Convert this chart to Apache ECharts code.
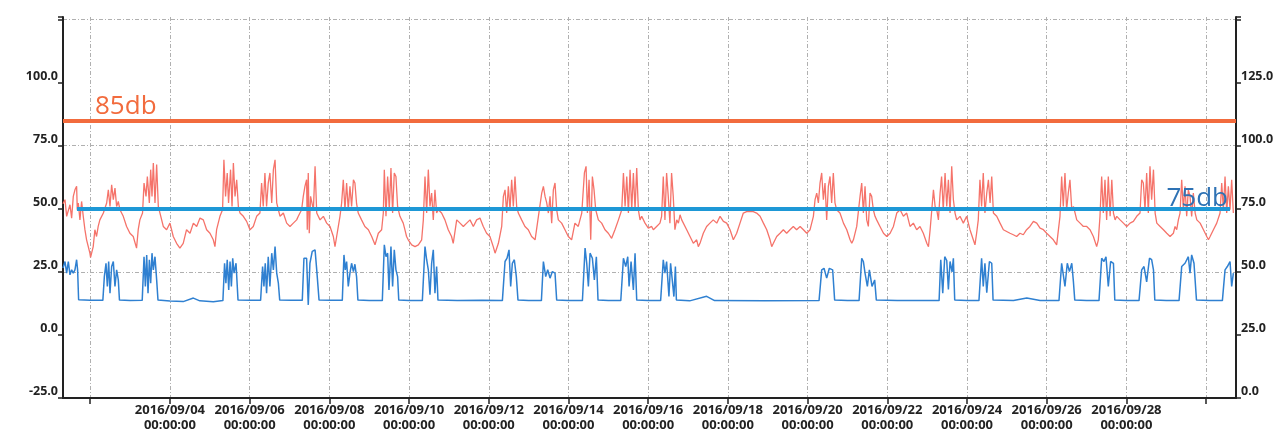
<!DOCTYPE html>
<html><head><meta charset="utf-8">
<script src="https://cdn.jsdelivr.net/npm/echarts@6/dist/echarts.min.js"></script>
<style>html,body{margin:0;padding:0;background:#fff;}#chart{width:1286px;height:433px;}</style>
</head><body><div id="chart"></div>
<script>
// ---------- data ----------
// x values: hours since 2016/09/01 00:00
const tickDates = ['2016/09/02','2016/09/04','2016/09/06','2016/09/08','2016/09/10','2016/09/12','2016/09/14','2016/09/16','2016/09/18','2016/09/20','2016/09/22','2016/09/24','2016/09/26','2016/09/28','2016/09/30'];
const labelDates = ['2016/09/04','2016/09/06','2016/09/08','2016/09/10','2016/09/12','2016/09/14','2016/09/16','2016/09/18','2016/09/20','2016/09/22','2016/09/24','2016/09/26','2016/09/28'];
const xRange = [7.6, 714.0];
const leftLimit = {value: 85, name: '85db'};
const rightLimit = {value: 75, name: '75db', from: 16.0, to: 710.4};

// red series (left axis)
const redSeries = [[7.6,52],[8.8,53.6],[9.8,47],[11.8,51.6],[12.8,46.3],[13.8,54.9],[14.8,57.5],[15.8,58.9],[16.2,49.6],[16.8,52.3],[17.8,45.6],[18.8,52.9],[19.8,47],[20.8,41.7],[21.8,37.7],[23.8,32.4],[24.2,30.7],[25.8,35],[26.8,41.7],[27.8,39],[28.8,43],[29.8,45.6],[31.9,48.3],[33.9,52.3],[34.9,57.5],[35.9,50.9],[36.9,59.5],[37.9,53.6],[38.9,58.2],[39.9,50.9],[40.9,52.9],[41.9,49.6],[43.9,47],[45.9,43],[47.9,40.3],[49.9,39],[51.9,34.4],[52.9,41.7],[53.9,45.6],[55.5,48.3],[56.4,60.2],[57.6,54.9],[58.4,62.8],[59.6,52.3],[60.4,65.5],[61.2,54.9],[62.0,68.1],[63.0,52.3],[64.0,67.5],[65.0,50.9],[66.0,48.3],[68.0,43],[70.0,41.7],[72.0,44.3],[74.0,39],[76.0,36.3],[78.0,34.4],[80.0,36.3],[82.0,41.7],[84.1,40.3],[86.1,44.3],[88.1,43],[90.1,46.3],[92.1,45.6],[94.1,41.7],[96.1,40.3],[98.1,37.7],[99.1,35],[100.1,41.7],[102.1,47],[103.7,49.6],[104.5,69.4],[105.5,54.9],[106.5,64.2],[107.3,52.3],[108.5,65.5],[109.4,50.9],[110.2,68.1],[111.2,54.9],[112.2,61.5],[113.2,50.9],[114.2,48.3],[116.2,47],[118.2,45],[120.2,41.7],[122.2,43],[124.2,47],[126.2,48.3],[127.2,60.2],[128.2,50.9],[129.2,64.2],[130.2,50.9],[131.2,60.2],[132.2,64.2],[133.3,52.3],[134.3,65.5],[135.3,69.4],[136.3,52.3],[137.3,49.6],[138.3,47],[140.3,48.3],[142.3,44.3],[144.3,43],[146.3,44.3],[148.3,45.6],[149.3,47],[151.3,49.6],[152.3,54.9],[153.3,58.9],[154.3,61.5],[154.7,41.7],[155.3,64.2],[155.9,40.3],[156.7,54.9],[158.4,49.6],[159.4,66.8],[160.4,48.3],[162.4,45.6],[164.4,47],[166.4,44.3],[168.4,43],[170.4,39],[171.4,35],[172.4,39],[174.4,47],[175.4,52.3],[176.4,61.5],[177.4,49.6],[178.4,60.2],[179.4,49.6],[180.4,58.9],[181.4,50.9],[182.5,61.5],[183.4,60.2],[184.4,52],[185.4,48.3],[187.4,45.6],[189.4,43],[191.5,41.7],[193.5,39],[195.5,35.7],[197.5,40.3],[199.5,41.7],[200.5,48.3],[201.1,65.5],[202.1,47],[203.1,62.8],[204.1,49.6],[205.1,66.1],[206.1,48.3],[207.1,64.2],[208.1,62.8],[209.1,50.9],[210.5,47],[212.5,44.3],[213.5,41.7],[214.5,39],[215.5,37.7],[217.6,35.7],[219.6,35],[221.6,35.7],[223.6,37.7],[224.6,45.6],[225.6,62.8],[226.6,48.3],[227.6,65.5],[228.6,50.9],[229.6,56.2],[230.6,45.6],[231.6,57.5],[232.6,48.3],[233.6,49.6],[235.6,48.3],[237.6,45.6],[239.6,41.7],[241.6,39],[242.6,36.3],[244.7,45.6],[246.7,44.3],[248.7,43],[250.7,44.3],[252.7,45.6],[254.7,43],[256.7,45.6],[258.7,46.3],[260.7,43],[262.7,40.3],[264.7,39],[266.7,35],[267.8,32.4],[269.8,36.3],[271.8,43],[272.8,54.9],[273.8,57.5],[274.8,48.3],[275.8,58.9],[276.8,49.6],[277.8,61.5],[278.8,50.9],[279.8,62.8],[280.8,50.9],[281.8,48.3],[283.8,45.6],[285.8,43],[287.8,41.7],[289.8,39],[291.9,37.7],[293.9,47],[295.9,56.2],[296.9,58.9],[297.9,54.9],[298.9,52.3],[299.9,48.3],[300.9,54.9],[301.9,44.3],[302.9,57.5],[303.9,60.2],[304.9,49.6],[305.9,45.6],[307.9,44.3],[309.9,41.7],[311.9,39],[313.9,37.7],[315.9,44.3],[317.9,43],[320.0,48.3],[321.6,64.2],[322.6,66.8],[323.4,48.3],[324.4,61.5],[325.4,37.7],[326.4,62.8],[327.4,57.5],[328.4,49.6],[330.0,45.6],[332.0,44.3],[334.0,41.7],[336.0,40.3],[338.0,38.3],[340.0,41.7],[342.1,45.6],[344.1,49.6],[345.1,64.2],[346.1,50.9],[347.1,62.8],[348.1,48.3],[349.1,65.5],[350.1,49.6],[351.1,64.2],[352.1,49.6],[353.1,66.1],[354.1,49.6],[355.1,45.6],[356.1,47],[358.1,44.3],[360.1,42.3],[362.1,43],[363.1,41.7],[365.1,43],[367.1,44.3],[368.1,47],[369.1,62.8],[370.1,45.6],[371.1,64.2],[372.1,54.9],[373.1,44.3],[374.1,64.2],[375.1,54.9],[376.1,41.7],[377.2,45.6],[378.2,44.3],[379.2,47.6],[380.2,45.6],[381.2,45.6],[383.2,41.7],[385.2,39],[387.2,36.3],[389.2,37.7],[390.2,35],[391.2,36.3],[393.2,40.3],[395.2,43],[397.2,44.3],[399.2,45.6],[401.3,44.3],[403.3,47],[405.3,45],[407.3,44.3],[409.3,41.7],[411.3,37.7],[413.3,40.3],[415.3,44.3],[417.3,48.3],[419.3,48.9],[421.3,48.9],[423.3,48.9],[425.3,48.3],[427.4,47],[429.4,44.3],[431.4,41.7],[433.4,37.7],[434.4,35],[435.4,36.3],[437.4,39],[439.4,40.3],[441.4,41.7],[443.4,40.3],[445.4,41.7],[447.4,43],[449.4,41.7],[451.5,43],[453.5,41.7],[455.5,40.3],[457.5,41.7],[459.5,47],[460.5,53.6],[461.5,56.2],[462.5,52.3],[463.5,60.2],[464.5,64.2],[465.5,53.6],[466.5,60.2],[467.5,45.6],[468.5,58.9],[469.5,62.8],[470.5,52.3],[471.5,64.2],[472.5,52.3],[473.5,49.6],[475.5,48.3],[477.6,44.3],[479.6,41.7],[481.6,37.7],[482.6,36.3],[483.6,37.7],[485.6,43],[487.6,54.9],[488.6,60.2],[489.6,48.3],[490.6,58.9],[491.6,45.6],[492.6,43],[493.6,56.2],[494.6,54.9],[495.6,49.6],[496.6,47],[497.6,45.6],[499.6,43],[501.7,40.3],[503.7,39],[505.7,40.3],[507.7,43],[509.7,48.3],[511.7,49.6],[513.7,47],[515.7,48.3],[517.7,43],[519.7,44.3],[521.7,41.7],[523.7,43],[525.7,40.3],[527.8,36.3],[528.8,35],[529.8,41.7],[530.8,49.6],[531.8,57.5],[532.8,50.9],[533.8,49.6],[534.8,45.6],[535.8,56.2],[536.7,62.8],[537.7,49.6],[538.8,64.2],[539.8,50.9],[540.8,61.5],[541.8,48.3],[542.8,66.8],[543.8,53.6],[544.8,48.3],[545.8,45.6],[547.8,47],[549.8,44.3],[551.8,47],[553.8,41.7],[555.8,37.7],[556.8,35.7],[557.8,40.3],[558.8,45.6],[559.8,61.5],[560.8,50.9],[561.8,64.2],[562.8,48.3],[563.9,56.2],[564.9,61.5],[565.9,52.3],[566.9,62.8],[567.9,48.3],[569.9,47],[571.9,44.3],[573.9,41.7],[575.9,41],[577.9,40.3],[579.9,39.7],[581.9,39],[583.9,40.3],[585.9,39.7],[587.9,41.7],[589.9,43],[592.0,45],[594.0,44.3],[596.0,42.3],[598.0,41.7],[600.0,40.3],[602.0,39],[604.0,37.7],[606.0,35.7],[607.0,35],[608.0,47],[609.0,62.8],[610.0,50.9],[611.0,64.2],[612.0,49.6],[613.0,56.2],[614.0,61.5],[615.1,49.6],[616.1,50.9],[617.1,48.3],[618.1,45.6],[620.1,44.3],[622.1,43],[624.1,43],[626.1,41.7],[628.1,39],[630.1,35],[631.1,37.7],[632.1,47],[633.1,62.8],[634.1,48.3],[635.1,61.5],[636.1,45.6],[637.1,62.8],[638.2,47],[639.2,61.5],[640.2,48.3],[641.2,45.6],[642.2,47],[644.2,45.6],[646.2,44.3],[648.2,43],[650.2,44.3],[652.2,45],[654.2,47],[656.2,48.3],[657.2,61.5],[658.2,60.2],[659.2,49.6],[660.2,64.2],[661.2,48.3],[662.2,66.8],[663.2,53.6],[664.3,65.5],[665.3,48.3],[666.3,44.3],[668.3,43],[670.3,41.7],[672.3,40.3],[674.3,39],[676.3,40.3],[677.3,43],[678.3,41.7],[679.3,45.6],[680.3,48.3],[681.3,61.5],[682.3,49.6],[683.3,58.9],[684.3,47],[685.3,57.5],[686.3,54.9],[687.3,47],[688.3,56.2],[689.4,48.3],[690.4,45.6],[692.4,44.3],[694.4,41.7],[696.4,39],[697.4,37.7],[698.4,39],[700.4,41.7],[702.4,44.3],[704.4,48.3],[705.4,60.2],[706.4,49.6],[707.4,62.8],[708.4,48.3],[709.4,58.9],[710.4,49.6],[711.4,61.5],[712.4,48.3]];

// blue series (right axis)
const blueSeries = [[7.6,51.5],[8.8,54.1],[9.8,49.5],[10.8,54.1],[11.8,48.8],[12.8,50.8],[13.8,49.5],[14.8,50.8],[15.8,54.8],[16.4,50.8],[17.0,38.9],[24,38.7],[31.6,38.7],
[32.5,48.1],[33.5,53.4],[34.3,44.2],[35.1,54.1],[35.9,41.5],[36.9,52.1],[37.9,54.1],[38.9,44.2],[39.9,50.8],[40.9,46.8],[41.6,38.8],[48,38.6],[55.3,38.7],
[56.4,56],[57.2,44.2],[58.0,56.7],[58.8,41.5],[59.6,54.8],[60.4,45.5],[61.2,57.4],[62.0,50.8],[63.0,56],[64.0,46.8],[64.8,38.8],[72,38.4],[80,38.2],[86.1,39.6],[90,38.5],[98.1,38.1],[103.9,38.6],
[104.9,53.4],[105.7,45.5],[106.5,54.8],[107.4,42.8],[108.2,54.1],[109.0,44.2],[109.8,55.4],[110.6,49.5],[111.8,53.4],[113.0,38.8],[120,38.7],[126.6,38.7],
[127.8,52.1],[128.6,44.2],[129.4,53.4],[130.2,41.5],[131.2,56],[132.2,44.2],[133.3,57.4],[134.3,50.8],[135.3,60],[136.3,49.5],[137.3,45.5],[138.1,38.8],[145,38.7],[151.7,38.7],
[152.7,55.4],[154.3,55.4],[155.3,36.9],[156.3,53.4],[157.7,58.1],[159.4,58.7],[160.4,50.8],[161.8,38.8],[168,38.7],[175.8,38.7],
[176.8,56.7],[177.6,50.8],[178.4,54.1],[179.4,44.2],[180.4,49.5],[181.4,53.4],[182.5,50.1],[183.4,53],[184.4,48],[185.2,38.8],[192,38.6],[199.9,38.6],
[201.1,60.7],[202.1,56],[203.1,57.4],[203.9,42.8],[205.1,60],[206.1,44.2],[207.1,58.7],[208.1,50.8],[209.1,48.1],[209.8,38.8],[216,38.6],[224.0,38.6],
[225.6,60],[226.6,54.8],[227.6,50.8],[228.6,40.9],[229.6,53.4],[230.6,58.7],[231.6,41.5],[232.6,52.1],[233.4,38.8],[245,38.6],[260,38.7],[272.2,38.6],
[273.8,54.1],[275.0,55.4],[276.2,58.7],[277.2,44.2],[278.2,53.4],[279.4,54.8],[280.6,48.1],[281.6,38.8],[288,38.6],[295.7,38.6],
[296.9,54.1],[298.3,48.1],[299.5,50.8],[300.9,47.5],[302.3,50.1],[303.9,49.5],[304.9,38.8],[312,38.6],[320.4,38.6],
[322.0,59.4],[323.0,53.4],[324.0,44.2],[325.0,57.4],[326.4,55.4],[327.6,46.8],[328.8,56],[329.8,38.8],[336,38.6],[343.5,38.6],
[345.1,55.4],[346.5,52.1],[347.7,56],[348.5,44.2],[349.7,54.1],[351.1,42.8],[352.1,57.4],[353.1,38.8],[360,38.6],[367.5,38.6],
[369.1,54.8],[370.1,49.5],[371.1,54.1],[372.5,40.2],[373.5,53.4],[374.7,54.1],[375.5,40.2],[376.4,52.1],[377.0,38.8],[385,38.5],[395.2,40.3],[400,38.6],[430,38.5],[462.9,38.6],
[464.5,50.8],[465.9,51.4],[467.5,47.5],[469.1,51.4],[471.1,50.8],[472.3,38.8],[480,38.6],[487.0,38.6],
[488.6,55.4],[489.6,54.1],[490.6,49.5],[492.0,44.2],[493.2,50.8],[494.8,44.2],[496.4,46.8],[497.4,38.8],[510,38.6],[535.2,38.6],
[536.2,54.8],[537.4,41.5],[538.6,56],[539.8,54.5],[540.8,43],[541.8,54.1],[543.0,50],[543.8,55.4],[544.6,38.8],[552,38.6],[559.2,38.6],
[560.8,55.4],[561.8,44.2],[562.8,53.4],[563.9,41.7],[565.5,54.1],[566.9,53.4],[567.7,38.8],[580,38.6],[588.0,39.6],[596,38.6],[607.4,38.6],
[609.0,53.4],[610.0,54.1],[611.0,44.2],[612.4,53.4],[613.7,50.1],[615.1,53.4],[616.1,46],[616.9,38.8],[624,38.6],[631.5,38.6],
[633.1,55.4],[634.5,54.1],[635.7,56],[637.1,44.2],[638.5,54.1],[640.2,53.4],[641.0,38.8],[648,38.6],[655.6,38.6],
[657.2,50.8],[658.6,52.1],[660.2,46],[661.9,55.4],[663.2,54.8],[664.3,50.8],[665.1,38.8],[672,38.6],[679.7,38.6],
[681.3,52.1],[683.3,53.4],[685.3,56],[686.3,49.5],[687.3,56.7],[688.7,53.4],[690.2,38.8],[698,38.6],[705.8,38.6],
[707.4,50.8],[708.8,52.1],[710.4,54.1],[711.4,44.2],[712.4,49.5]];

// ---------- helpers ----------
const T0 = Date.UTC(2016, 8, 1);
function dateToHour(s) { const p = s.split('/').map(Number); return (Date.UTC(p[0], p[1] - 1, p[2]) - T0) / 3600000; }
function pad(n) { return (n < 10 ? '0' : '') + n; }
function hourToLabel(h) {
  const d = new Date(T0 + h * 3600000);
  return d.getUTCFullYear() + '/' + pad(d.getUTCMonth() + 1) + '/' + pad(d.getUTCDate()) + '\n' +
    pad(d.getUTCHours()) + ':' + pad(d.getUTCMinutes()) + ':' + pad(d.getUTCSeconds());
}
const tickHours = tickDates.map(dateToHour);
const labelHours = labelDates.map(dateToHour);

const FONT = 'Open Sans';
const axisColor = '#222';
const labelStyle = {color: '#222', fontFamily: FONT, fontWeight: 700, fontSize: 12.5};
const gridDash = {color: '#b0b0b0', width: 1, type: [4, 2, 1, 2]};

const chart = echarts.init(document.getElementById('chart'), null, {renderer: 'canvas'});
chart.setOption({
  animation: false,
  backgroundColor: '#fff',
  grid: {left: 63, right: 50, top: 17, bottom: 35, containLabel: false},
  xAxis: {
    type: 'value', min: xRange[0], max: xRange[1],
    axisLine: {show: true, onZero: false, lineStyle: {color: axisColor, width: 2}},
    axisTick: {show: true, customValues: tickHours, length: 6, lineStyle: {color: axisColor, width: 1.5}},
    axisLabel: {customValues: labelHours, formatter: hourToLabel, margin: 5, lineHeight: 15, fontSize: 13, color: '#222', fontFamily: FONT, fontWeight: 700},
    splitLine: {show: true, lineStyle: gridDash}
  },
  yAxis: [
    {
      type: 'value', position: 'left', min: -25, max: 126, interval: 25,
      axisLine: {show: true, onZero: false, lineStyle: {color: axisColor, width: 2}},
      axisTick: {show: true, length: 5, lineStyle: {color: axisColor, width: 1.5}},
      axisLabel: Object.assign({formatter: v => v > 100 ? '' : v.toFixed(1), margin: 5, verticalAlign: 'bottom'}, labelStyle),
      splitLine: {show: false}
    },
    {
      type: 'value', position: 'right', min: 0, max: 151, interval: 25,
      axisLine: {show: true, onZero: false, lineStyle: {color: axisColor, width: 2}},
      axisTick: {show: true, length: 5, lineStyle: {color: axisColor, width: 1.5}},
      axisLabel: Object.assign({formatter: v => v > 125 ? '' : v.toFixed(1), margin: 5, verticalAlign: 'bottom'}, labelStyle),
      splitLine: {show: false}
    },
    {
      type: 'value', position: 'left', min: -25, max: 126, interval: 50,
      axisLine: {show: false}, axisTick: {show: false}, axisLabel: {show: false},
      splitLine: {show: true, showMaxLine: false, showMinLine: false, lineStyle: gridDash}
    }
  ],
  series: [
    {
      type: 'line', name: 'red', yAxisIndex: 0, data: redSeries, showSymbol: false, symbol: 'none',
      lineStyle: {color: '#f5736a', width: 1.3}, z: 2,
      markLine: {
        silent: true, symbol: 'none', animation: false,
        lineStyle: {color: '#f26b3d', width: 4, type: 'solid'},
        label: {show: true, formatter: leftLimit.name, position: 'insideStartTop', distance: [32, 1], color: '#f26b3d', fontFamily: FONT, fontSize: 26},
        data: [{yAxis: leftLimit.value}]
      }
    },
    {
      type: 'line', name: 'blue', yAxisIndex: 1, data: blueSeries, showSymbol: false, symbol: 'none',
      lineStyle: {color: '#2f80d1', width: 1.5}, z: 3,
      markLine: {
        silent: true, symbol: 'none', animation: false,
        lineStyle: {color: '#1e98d6', width: 4, type: 'solid'},
        label: {show: true, formatter: rightLimit.name, position: 'insideEndTop', distance: [2, -3], color: '#2e72b4', fontFamily: FONT, fontSize: 26},
        data: [[{coord: [rightLimit.from, rightLimit.value]}, {coord: [rightLimit.to, rightLimit.value]}]]
      }
    }
  ]
});
</script></body></html>
